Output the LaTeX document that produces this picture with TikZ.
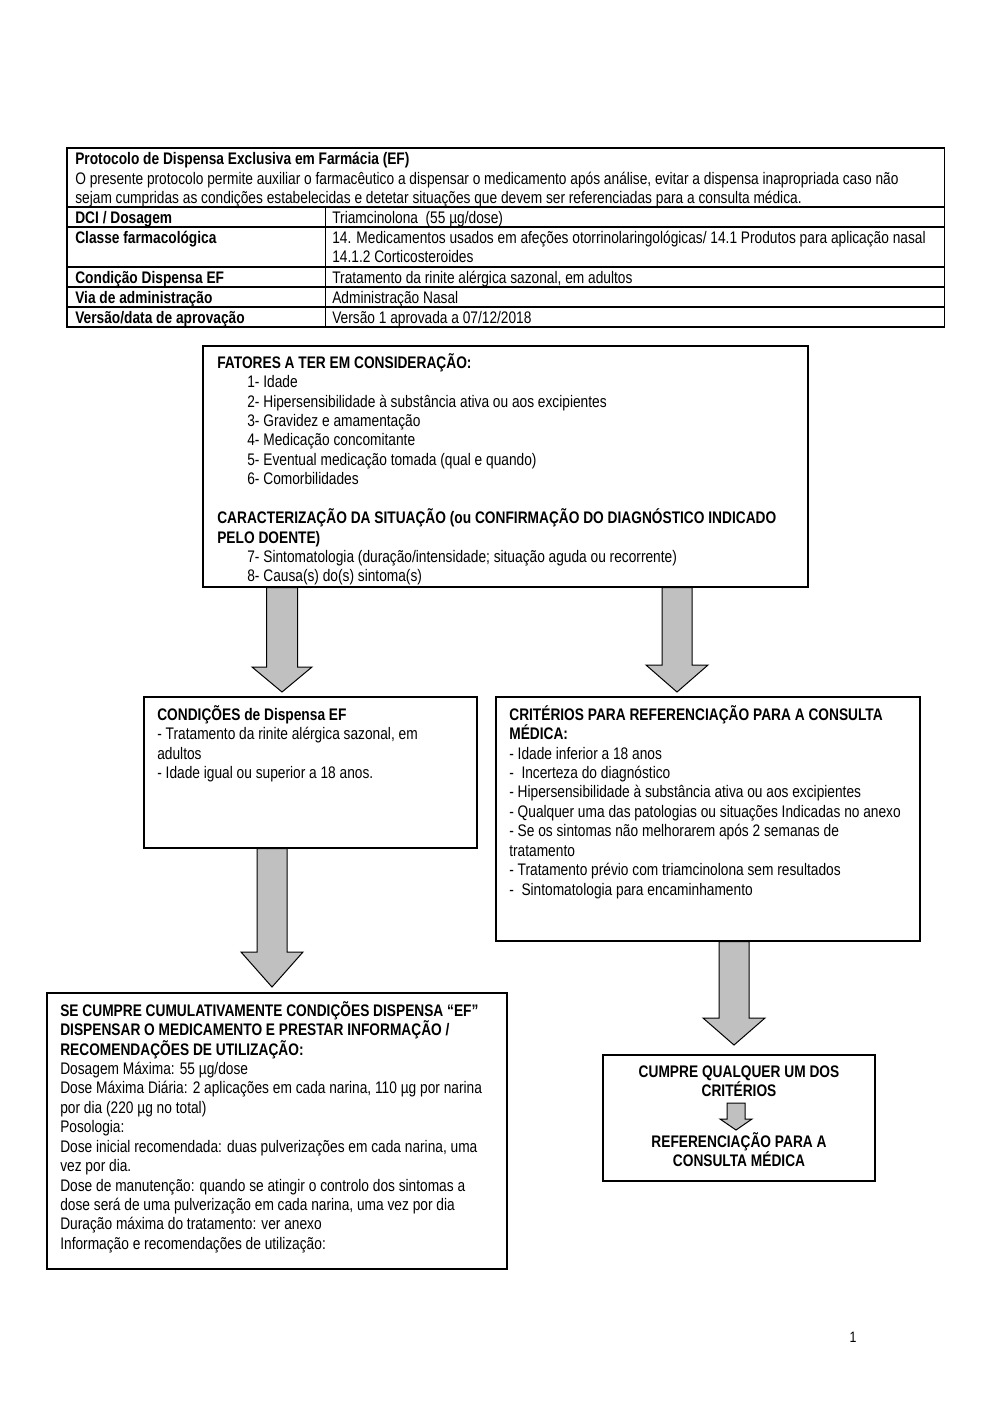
\documentclass[tikz,border=0pt]{standalone}
\usepackage{fontspec}
\setmainfont[FakeStretch=0.82]{Liberation Sans}
\usetikzlibrary{calc, fit}
\definecolor{arrowgray}{HTML}{C0C0C0}

% strut that fixes the top of the first line of a text block
\newcommand{\topstrut}{\rule{0pt}{10pt}}
% block arrow:
%   #1 = start (on the box above), #2 = tip coordinate
%   #3 = half width of shaft, #4 = half width of head, #5 = head length
\newcommand{\blockarrow}[5]{%
  \draw[bigarrow]
    ($(#1)+(-#3,0)$) -- ($(#1)+(#3,0)$) -- ($(#2)+(#3,-#5)$) -- ($(#2)+(#4,-#5)$)
    -- (#2) -- ($(#2)+(-#4,-#5)$) -- ($(#2)+(-#3,-#5)$) -- cycle;}

\begin{document}
\begin{tikzpicture}[x=0.021cm, y=-0.021cm,
  font=\fontsize{10}{11.6}\selectfont,
  box/.style={draw, line width=0.7pt, inner sep=0pt},
  txt/.style={anchor=north west, inner sep=0pt, align=left},
  ctxt/.style={anchor=north, inner sep=0pt, align=center, font=\fontsize{10}{11.6}\selectfont\bfseries},
  bigarrow/.style={draw, line width=0.6pt, fill=arrowgray, line join=miter},
  rule/.style={line width=0.6pt}]

  \useasboundingbox (0,0) rectangle (1000,1414);

  % protocol table
  \draw[rule] (67,148) rectangle (944,327);
  \foreach \ry in {207,227,267,287,307}
    \draw[rule] (67,\ry) -- (944,\ry);
  \draw[rule] (325,207) -- (325,327);

  \node[txt] (protocolo) at (75,147.7) {\topstrut\textbf{Protocolo de Dispensa Exclusiva em Farmácia (EF)}\\
    O presente protocolo permite auxiliar o farmacêutico a dispensar o medicamento após análise, evitar a dispensa inapropriada caso não\\
    sejam cumpridas as condições estabelecidas e detetar situações que devem ser referenciadas para a consulta médica.};

  \foreach \i/\ry/\lab/\val in {
    1/207/{DCI / Dosagem}/{Triamcinolona\ \ (55 µg/dose)},
    2/227/{Classe farmacológica}/{14. Medicamentos usados em afeções otorrinolaringológicas/ 14.1 Produtos para aplicação nasal\\14.1.2 Corticosteroides},
    3/267/{Condição Dispensa EF}/{Tratamento da rinite alérgica sazonal, em adultos},
    4/287/{Via de administração}/{Administração Nasal},
    5/307/{Versão/data de aprovação}/{Versão 1 aprovada a 07/12/2018}
  }{
    \node[txt] (lab\i) at (75,\ry-0.8) {\topstrut\textbf{\lab}};
    \node[txt] (val\i) at (332,\ry-0.8) {\topstrut\val};
  }

  % boxes
  \node[box, fit={(203,346) (808,587)}] (fatores) {};
  \node[box, fit={(144,697) (477,848)}] (condicoes) {};
  \node[box, fit={(496,697) (920,941)}] (criterios) {};
  \node[box, fit={(47,993) (507,1269)}] (dispensar) {};
  \node[box, fit={(603,1055) (875,1181)}] (cumprebox) {};

  \begin{scope}
    \clip (fatores.north west) rectangle (fatores.south east);
    \node[txt] (fatorestxt) at (217,351.2) {\topstrut\textbf{FATORES A TER EM CONSIDERAÇÃO:}\\
      \hspace*{0.63cm}1- Idade\\
      \hspace*{0.63cm}2- Hipersensibilidade à substância ativa ou aos excipientes\\
      \hspace*{0.63cm}3- Gravidez e amamentação\\
      \hspace*{0.63cm}4- Medicação concomitante\\
      \hspace*{0.63cm}5- Eventual medicação tomada (qual e quando)\\
      \hspace*{0.63cm}6- Comorbilidades\\[11.6pt]
      \textbf{CARACTERIZAÇÃO DA SITUAÇÃO (ou CONFIRMAÇÃO DO DIAGNÓSTICO INDICADO}\\
      \textbf{PELO DOENTE)}\\
      \hspace*{0.63cm}7- Sintomatologia (duração/intensidade; situação aguda ou recorrente)\\
      \hspace*{0.63cm}8- Causa(s) do(s) sintoma(s)};
  \end{scope}

  \node[txt] (condicoestxt) at (157,703.2) {\topstrut\textbf{CONDIÇÕES de Dispensa EF}\\
    - Tratamento da rinite alérgica sazonal, em\\
    adultos\\
    - Idade igual ou superior a 18 anos.};

  \node[txt] (criteriostxt) at (509,703.2) {\topstrut\textbf{CRITÉRIOS PARA REFERENCIAÇÃO PARA A CONSULTA}\\
    \textbf{MÉDICA:}\\
    - Idade inferior a 18 anos\\
    -\ \ Incerteza do diagnóstico\\
    - Hipersensibilidade à substância ativa ou aos excipientes\\
    - Qualquer uma das patologias ou situações Indicadas no anexo\\
    - Se os sintomas não melhorarem após 2 semanas de\\
    tratamento\\
    - Tratamento prévio com triamcinolona sem resultados\\
    -\ \ Sintomatologia para encaminhamento};

  \node[txt] (dispensartxt) at (60,999.2) {\topstrut\textbf{SE CUMPRE CUMULATIVAMENTE CONDIÇÕES DISPENSA “EF”}\\
    \textbf{DISPENSAR O MEDICAMENTO E PRESTAR INFORMAÇÃO /}\\
    \textbf{RECOMENDAÇÕES DE UTILIZAÇÃO:}\\
    Dosagem Máxima: 55 µg/dose\\
    Dose Máxima Diária: 2 aplicações em cada narina, 110 µg por narina\\
    por dia (220 µg no total)\\
    Posologia:\\
    Dose inicial recomendada: duas pulverizações em cada narina, uma\\
    vez por dia.\\
    Dose de manutenção: quando se atingir o controlo dos sintomas a\\
    dose será de uma pulverização em cada narina, uma vez por dia\\
    Duração máxima do tratamento: ver anexo\\
    Informação e recomendações de utilização:};

  \node[ctxt] (cumpre) at (739,1060.2) {\topstrut CUMPRE QUALQUER UM DOS\\CRITÉRIOS};
  \node[ctxt] (referencia) at (739,1130.2) {\topstrut REFERENCIAÇÃO PARA A\\CONSULTA MÉDICA};

  % arrow tips
  \coordinate (tipA) at (282,692);
  \coordinate (tipB) at (677,692);
  \coordinate (tipC) at (272,987);
  \coordinate (tipD) at (734,1045);
  \coordinate (tipE) at (736,1130);
  \coordinate (startE) at ($(cumpre.south -| tipE)+(0,6)$);

  \blockarrow{fatores.south -| tipA}{tipA}{15.5}{30}{25}
  \blockarrow{fatores.south -| tipB}{tipB}{15}{31}{27}
  \blockarrow{condicoes.south -| tipC}{tipC}{15}{31}{35}
  \blockarrow{criterios.south -| tipD}{tipD}{15}{31}{27}
  \blockarrow{startE}{tipE}{9}{16}{11}

  % page number
  \node[anchor=base, inner sep=0pt, font=\fontsize{9}{11}\selectfont] (pagenum) at (853,1342) {1};
\end{tikzpicture}
\end{document}
